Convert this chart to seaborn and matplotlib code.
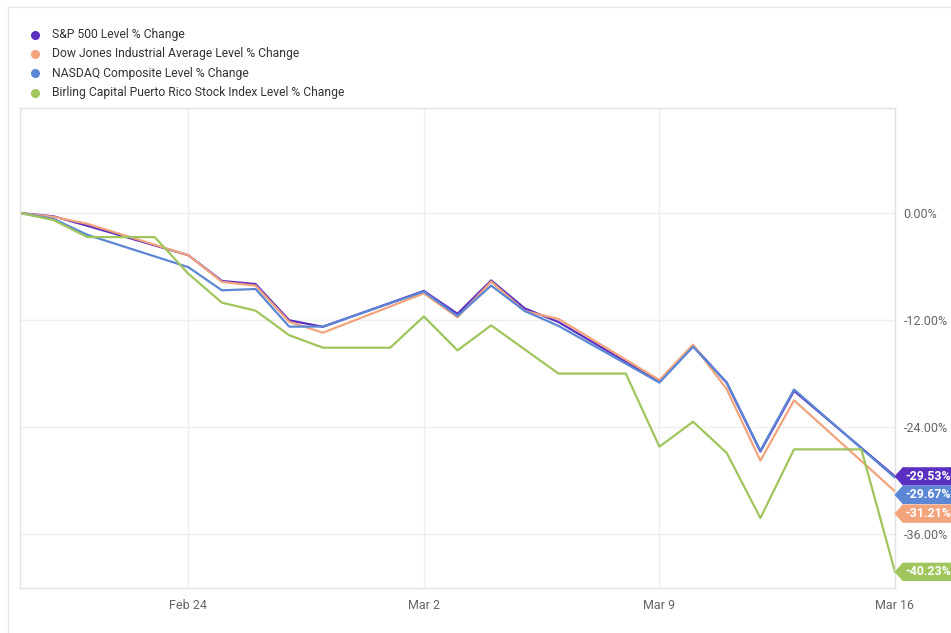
import pandas as pd
import matplotlib.pyplot as plt
from matplotlib.path import Path
from matplotlib.lines import Line2D
import seaborn as sns

# ---------------------------------------------
# Data: % change since Feb 19, 2020
# ---------------------------------------------
trade_days = ["2020-02-19", "2020-02-20", "2020-02-21", "2020-02-24", "2020-02-25",
              "2020-02-26", "2020-02-27", "2020-02-28", "2020-03-02", "2020-03-03",
              "2020-03-04", "2020-03-05", "2020-03-06", "2020-03-09", "2020-03-10",
              "2020-03-11", "2020-03-12", "2020-03-13", "2020-03-16"]

sp500 = [0.0, -0.38, -1.43, -4.73, -7.62, -7.97, -12.03, -12.76, -8.74, -11.30,
         -7.56, -10.70, -12.22, -18.89, -14.88, -19.04, -26.74, -19.94, -29.53]
dow = [0.0, -0.44, -1.21, -4.73, -7.72, -8.15, -12.20, -13.42, -9.01, -11.69,
       -7.69, -11.00, -11.87, -18.73, -14.75, -19.75, -27.76, -21.00, -31.21]
nasdaq = [0.0, -0.67, -2.45, -6.07, -8.67, -8.52, -12.74, -12.73, -8.81, -11.54,
          -8.14, -10.99, -12.65, -19.01, -15.00, -19.00, -26.64, -19.79, -29.67]

# Birling index is carried over weekends
birling_days = ["2020-02-19", "2020-02-20", "2020-02-21", "2020-02-22", "2020-02-23",
                "2020-02-24", "2020-02-25", "2020-02-26", "2020-02-27", "2020-02-28",
                "2020-02-29", "2020-03-01", "2020-03-02", "2020-03-03", "2020-03-04",
                "2020-03-05", "2020-03-06", "2020-03-07", "2020-03-08", "2020-03-09",
                "2020-03-10", "2020-03-11", "2020-03-12", "2020-03-13", "2020-03-14",
                "2020-03-15", "2020-03-16"]
birling = [0.0, -0.8, -2.7, -2.7, -2.7, -6.8, -10.05, -10.95, -13.7, -15.1,
           -15.1, -15.1, -11.6, -15.4, -12.6, -15.3, -18.0, -18.0, -18.0, -26.2,
           -23.4, -26.9, -34.2, -26.5, -26.5, -26.5, -40.23]

names = ["S&P 500 Level % Change",
         "Dow Jones Industrial Average Level % Change",
         "NASDAQ Composite Level % Change",
         "Birling Capital Puerto Rico Stock Index Level % Change"]
colors = ["#5b2fc2", "#f2a47c", "#5b87d4", "#9fc55c"]

x_ticks = ["2020-02-24", "2020-03-02", "2020-03-09", "2020-03-16"]
x_labels = ["Feb 24", "Mar 2", "Mar 9", "Mar 16"]
y_ticks = [0, -12, -24, -36]

# vertical spot of each end flag (shifted to avoid overlap)
flag_y = [-29.53, -31.6, -33.7, -40.23]

frames = []
for name, days, vals in zip(names, [trade_days, trade_days, trade_days, birling_days],
                            [sp500, dow, nasdaq, birling]):
    frames.append(pd.DataFrame({"date": pd.to_datetime(days), "pct": vals, "series": name}))
df = pd.concat(frames, ignore_index=True)


def flag_box(x0, y0, width, height, mutation_size):
    # rectangle with a pointed left side
    pad = 0.22 * mutation_size
    x0, y0 = x0 - pad, y0 - pad
    w, h = width + 2 * pad, height + 2 * pad
    tip = 0.45 * h
    verts = [(x0 - tip, y0 + h / 2), (x0, y0), (x0 + w, y0), (x0 + w, y0 + h),
             (x0, y0 + h), (x0 - tip, y0 + h / 2)]
    codes = [Path.MOVETO] + [Path.LINETO] * 4 + [Path.CLOSEPOLY]
    return Path(verts, codes)


def main():
    sns.set_style("white")
    plt.rcParams["font.family"] = ["Roboto", "DejaVu Sans"]

    W, H = 951, 633
    fig = plt.figure(figsize=(W / 100, H / 100), dpi=100)
    ax = fig.add_axes([20 / W, 45 / H, (895 - 20) / W, (588 - 108) / H])

    sns.lineplot(data=df, x="date", y="pct", hue="series", hue_order=names,
                 palette=dict(zip(names, colors)), estimator=None, sort=True,
                 linewidth=1.6, legend=False, ax=ax)

    ax.set_xlim(pd.Timestamp("2020-02-19"), pd.Timestamp("2020-03-16"))
    ax.set_ylim(-42.04, 11.77)

    ax.set_xticks(pd.to_datetime(x_ticks))
    ax.set_xticklabels(x_labels)
    ax.set_yticks(y_ticks)
    ax.set_yticklabels([f"{v:.2f}%" for v in y_ticks])
    ax.yaxis.tick_right()
    ax.tick_params(axis="x", length=0, pad=8, labelsize=9, labelcolor="#666666")
    ax.tick_params(axis="y", length=0, pad=6, labelsize=9, labelcolor="#666666")
    for lab in ax.get_yticklabels():
        lab.set_horizontalalignment("left")
    ax.set_xlabel("")
    ax.set_ylabel("")
    ax.grid(True, color="#efefef", linewidth=1)
    for sp in ax.spines.values():
        sp.set_color("#e3e3e3")
        sp.set_linewidth(1)

    # end-of-line value flags
    last_vals = [sp500[-1], dow[-1], nasdaq[-1], birling[-1]]
    order = [0, 2, 1, 3]  # S&P, NASDAQ, Dow, Birling top to bottom
    for slot, idx in enumerate(order):
        ax.annotate(f"{last_vals[idx]:.2f}%", xy=(pd.Timestamp("2020-03-16"), flag_y[slot]),
                    xytext=(7.5, 0), textcoords="offset points", ha="left", va="center",
                    color="white", fontsize=8.8, fontweight="bold",
                    bbox=dict(boxstyle=flag_box, fc=colors[idx], ec="none"),
                    annotation_clip=False, zorder=10)

    # legend at the top left
    for i, (name, color) in enumerate(zip(names, colors)):
        yy = 1 - (34.5 + 19.4 * i) / H
        fig.add_artist(Line2D([35 / W], [yy], marker="o", markersize=5.5, color=color,
                              linestyle="none", transform=fig.transFigure))
        fig.text(52 / W, yy, name, fontsize=8.7, color="#333333", va="center", ha="left")

    # outer frame of the card
    fig.add_artist(Line2D([8 / W, 1], [1 - 7 / H, 1 - 7 / H], color="#e6e6e6",
                          linewidth=1, transform=fig.transFigure))
    fig.add_artist(Line2D([8 / W, 8 / W], [0, 1 - 7 / H], color="#e6e6e6",
                          linewidth=1, transform=fig.transFigure))

    fig.savefig("out.png", dpi=100)
    plt.close(fig)


if __name__ == "__main__":
    main()
